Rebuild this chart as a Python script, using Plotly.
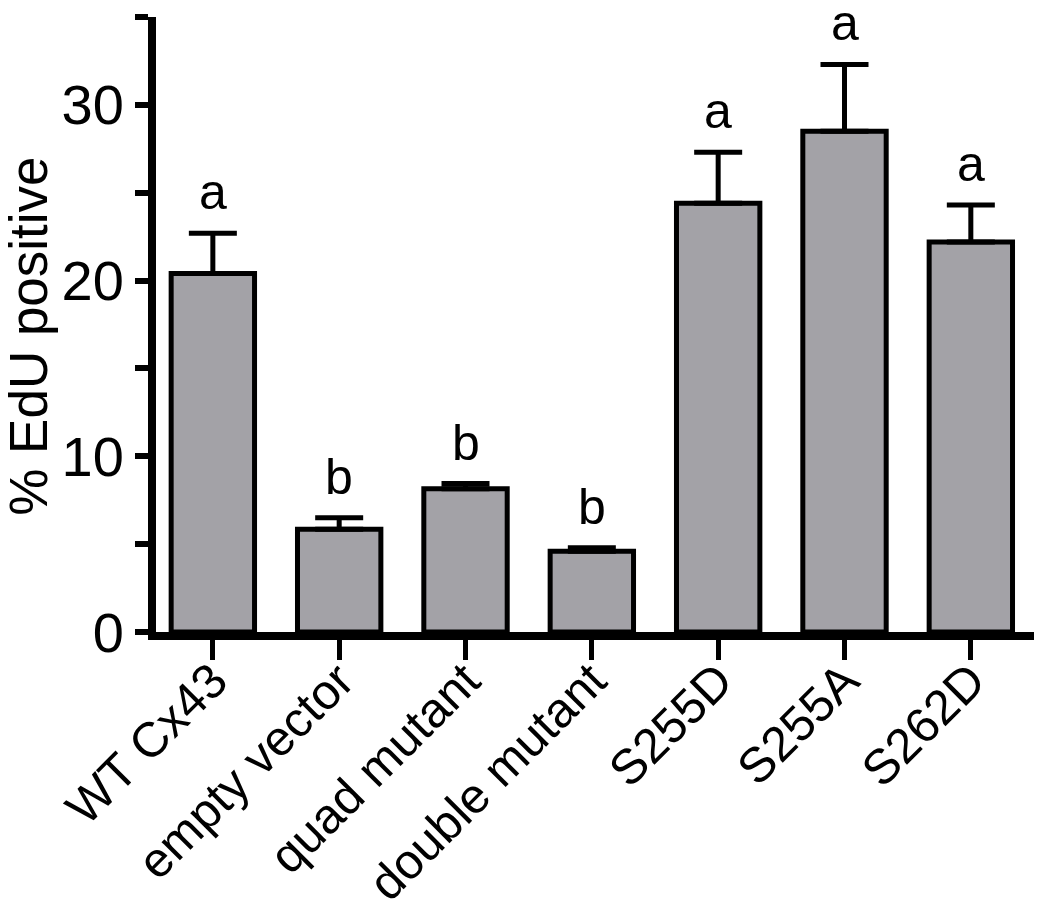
import plotly.graph_objects as go

# Data
groups = ['WT Cx43', 'empty vector', 'quad mutant', 'double mutant', 'S255D', 'S255A', 'S262D']
edu_mean = [20.4, 5.85, 8.15, 4.6, 24.4, 28.5, 22.2]
edu_sem = [2.3, 0.65, 0.3, 0.2, 2.9, 3.8, 2.1]
sig_letters = ['a', 'b', 'b', 'b', 'a', 'a', 'a']
y_ticks = [0, 5, 10, 15, 20, 25, 30, 35]
y_labels = ['0', '', '10', '', '20', '', '30', '']
y_title = '% EdU positive'

font_name = 'Liberation Sans, Arial, sans-serif'

fig = go.Figure()

fig.add_trace(
    go.Bar(
        x=groups,
        y=edu_mean,
        width=0.66,
        marker=dict(
            color='#a3a2a7',
            line=dict(color='black', width=5)
        ),
        error_y=dict(
            type='data',
            symmetric=False,
            array=edu_sem,
            arrayminus=[0] * len(edu_sem),
            color='black',
            thickness=5,
            width=24
        ),
        showlegend=False
    )
)

# Significance letters above each error bar
for g, m, s, letter in zip(groups, edu_mean, edu_sem, sig_letters):
    fig.add_annotation(
        x=g, y=m + s,
        text=letter,
        showarrow=False,
        yanchor='bottom',
        yshift=11,
        font=dict(family=font_name, size=50, color='black')
    )

# Y axis title placed by hand (the built-in one is squeezed against the tick labels)
fig.add_annotation(
    xref='paper', yref='paper',
    x=0, y=0.48,
    xshift=-127,
    text=y_title,
    textangle=-90,
    showarrow=False,
    xanchor='center', yanchor='middle',
    font=dict(family=font_name, size=53, color='black')
)

fig.update_layout(
    width=1050,
    height=911,
    margin=dict(l=148, r=24, t=9, b=287),
    plot_bgcolor='white',
    paper_bgcolor='white',
    font=dict(family=font_name, size=46, color='black'),
    xaxis=dict(
        range=[-0.45, 6.5],
        automargin=False,
        showline=True,
        linecolor='black',
        linewidth=8,
        ticks='outside',
        ticklen=20,
        tickwidth=5,
        tickcolor='black',
        tickangle=-45,
        tickfont=dict(size=49),
        ticklabelstandoff=-28,
        showgrid=False,
        zeroline=False
    ),
    yaxis=dict(
        range=[0, 35],
        automargin=False,
        tickvals=y_ticks,
        ticktext=y_labels,
        showline=True,
        linecolor='black',
        linewidth=8,
        ticks='outside',
        ticklen=13,
        tickwidth=6,
        tickcolor='black',
        tickfont=dict(size=56),
        showgrid=False,
        zeroline=False
    )
)

fig.write_html("out.html")
